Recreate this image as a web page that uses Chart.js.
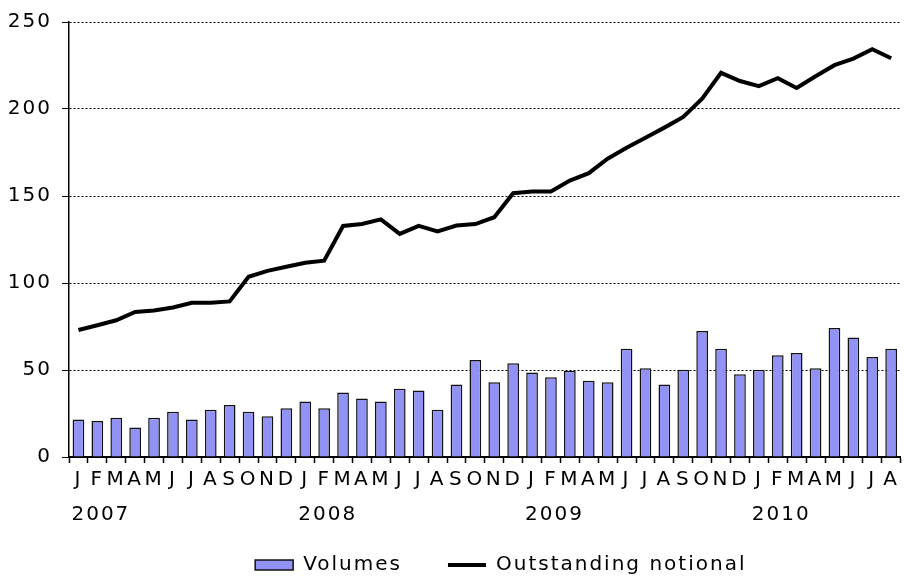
<!DOCTYPE html>
<html>
<head>
<meta charset="utf-8">
<script src="https://cdn.jsdelivr.net/npm/chart.js@4"></script>
<style>
  html, body { margin: 0; padding: 0; background: #fff; }
  #wrap { width: 904px; height: 577px; }
</style>
</head>
<body>
<div id="wrap"><canvas id="myChart" width="904" height="577"></canvas></div>
<script>
// months Jan 2007 -> Aug 2010
const months = [
  'J','F','M','A','M','J','J','A','S','O','N','D',
  'J','F','M','A','M','J','J','A','S','O','N','D',
  'J','F','M','A','M','J','J','A','S','O','N','D',
  'J','F','M','A','M','J','J','A'
];
const years = ['2007', '2008', '2009', '2010'];

// monthly volumes (bars)
const volumes = [
  21.6, 20.7, 22.6, 17.0, 22.6, 26.0, 21.6, 27.2, 29.9, 26.0, 23.4, 28.0,
  31.9, 28.0, 37.0, 33.6, 31.9, 39.2, 38.2, 27.2, 41.7, 55.8, 42.9, 53.9,
  48.5, 45.8, 49.6, 43.8, 42.9, 62.2, 51.0, 41.7, 50.2, 72.4, 62.2, 47.5,
  50.2, 58.5, 59.7, 51.0, 74.1, 68.7, 57.5, 62.2
];

// outstanding notional (line)
const notional = [
  73.0, 75.7, 78.6, 83.4, 84.2, 85.9, 88.6, 88.6, 89.4, 103.6, 107.0, 109.3,
  111.6, 112.8, 132.8, 133.9, 136.6, 128.2, 132.8, 129.7, 133.0, 133.9, 137.8, 151.6,
  152.6, 152.6, 158.9, 163.1, 171.4, 177.7, 183.5, 189.3, 195.4, 206.0, 220.8, 216.1,
  213.1, 217.7, 212.1, 218.8, 225.2, 229.0, 234.4, 229.2
];

const yTicks = [0, 50, 100, 150, 200, 250];

const font = { family: "'DejaVu Sans', Verdana, sans-serif", size: 20 };

// the reference text is wide, spread the letters a little
const letterSpacing = {
  id: 'letterSpacing',
  beforeUpdate: function (chart) { chart.ctx.letterSpacing = '2px'; },
  beforeDraw: function (chart) { chart.ctx.letterSpacing = '2px'; }
};

// nudge the legend a bit right and down
const legendShift = {
  id: 'legendShift',
  afterLayout: function (chart) {
    const lg = chart.legend;
    lg.left += 16; lg.right += 16;
    lg.top += 8; lg.bottom += 8;
  }
};

const data = {
  labels: months,
  datasets: [
    {
      type: 'line',
      label: 'Outstanding notional',
      data: notional,
      borderColor: '#000',
      backgroundColor: '#000',
      borderWidth: 4,
      pointRadius: 0,
      tension: 0,
      order: 0
    },
    {
      type: 'bar',
      label: 'Volumes',
      data: volumes,
      backgroundColor: '#9292f4',
      borderColor: '#111',
      borderWidth: 1.5,
      barPercentage: 0.62,
      categoryPercentage: 1,
      order: 1
    }
  ]
};

const config = {
  type: 'bar',
  data: data,
  plugins: [letterSpacing, legendShift],
  options: {
    responsive: false,
    animation: false,
    layout: { padding: { top: 22, right: 0, left: 0, bottom: 0 } },
    plugins: {
      tooltip: { enabled: false },
      legend: {
        position: 'bottom',
        fullSize: false,
        reverse: true,
        labels: {
          font: font,
          color: '#000',
          usePointStyle: true,
          pointStyleWidth: 38,
          boxHeight: 10,
          padding: 46,
          generateLabels: function (chart) {
            const items = Chart.defaults.plugins.legend.labels.generateLabels(chart);
            items.forEach(function (it) {
              it.pointStyle = it.datasetIndex === 0 ? 'line' : 'rect';
            });
            return items;
          }
        }
      }
    },
    scales: {
      x: {
        position: 'bottom',
        offset: true,
        grid: {
          offset: true,
          drawOnChartArea: false,
          drawTicks: true,
          tickLength: 6,
          tickColor: '#000',
          tickWidth: 1.5
        },
        border: { display: true, color: '#000', width: 2 },
        ticks: {
          font: font,
          color: '#000',
          padding: 5,
          autoSkip: false,
          maxRotation: 0
        },
        afterFit: function (scale) { scale.height = 34; }
      },
      // year row: mirrored so the labels are not clipped to the thin box
      x2: {
        position: 'bottom',
        offset: true,
        labels: months,
        grid: { display: false, drawTicks: false },
        border: { display: false },
        ticks: {
          font: font,
          color: '#000',
          mirror: true,
          padding: -36,
          autoSkip: false,
          maxRotation: 0,
          align: 'start',
          labelOffset: -7,
          callback: function (value, index) {
            return index % 12 === 0 ? years[index / 12] : '';
          }
        },
        afterFit: function (scale) { scale.height = 10; }
      },
      y: {
        min: 0,
        max: 250,
        afterBuildTicks: function (scale) {
          scale.ticks = yTicks.map(function (v) { return { value: v }; });
        },
        grid: {
          color: '#000',
          lineWidth: 1,
          tickLength: 7,
          tickColor: '#000',
          drawTicks: true
        },
        // dash applies to the gridlines, the axis line stays solid
        border: { display: true, color: '#000', width: 1.5, dash: [2, 2] },
        ticks: { font: font, color: '#000', padding: 10 },
        afterFit: function (scale) { scale.width = 69; }
      }
    }
  }
};

context = document.getElementById('myChart').getContext('2d');
chart = new Chart(context, config);
</script>
</body>
</html>
